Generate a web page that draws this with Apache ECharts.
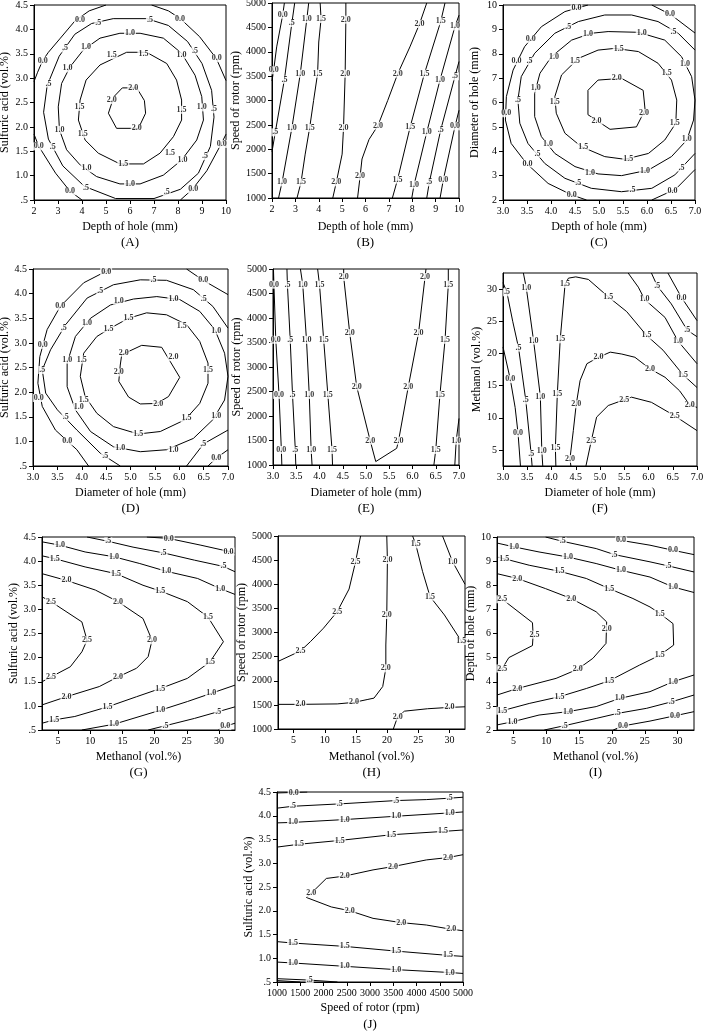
<!DOCTYPE html>
<html>
<head>
<meta charset="utf-8">
<script src="https://cdn.jsdelivr.net/npm/echarts@6.0.0/dist/echarts.min.js"></script>
<style>
html, body { margin: 0; padding: 0; background: #fff; }
#chart { width: 703px; height: 1033px; }
</style>
</head>
<body>
<div id="chart"></div>
<script>
const FONT = '"Liberation Serif", "Times New Roman", serif';

// axis ticks
const methanolTicks = [5, 10, 15, 20, 25, 30];

// contour lines per panel, [x, y] pairs
const linesA = [
  [[5.68,2.8],[6.28,2.8],[6.6,2.54],[6.65,2.28],[6.35,1.97],[5.44,1.97],[5.1,2.28],[5.33,2.62],[5.68,2.8]],
  [[5.86,3.53],[6.69,3.53],[7.53,3.3],[7.94,2.96],[8.15,2.55],[8.15,2.14],[7.81,1.8],[7.25,1.46],[6.56,1.24],[5.58,1.24],[4.68,1.46],[4.13,1.73],[3.85,2.14],[3.92,2.55],[4.17,2.96],[4.75,3.27],[5.86,3.53]],
  [[5.58,3.92],[6.42,3.92],[7.39,3.82],[8.15,3.51],[8.71,3.06],[8.99,2.62],[9.06,2.14],[8.78,1.73],[8.15,1.32],[7.39,1.01],[6.42,0.83],[5.58,0.83],[4.61,0.98],[3.92,1.22],[3.36,1.53],[3.06,1.94],[3.01,2.41],[3.15,2.89],[3.5,3.23],[4.06,3.58],[4.75,3.82],[5.58,3.92]],
  [[5.3,4.22],[6.7,4.22],[7.6,4.08],[8.4,3.75],[9.0,3.3],[9.4,2.75],[9.5,2.2],[9.35,1.6],[8.85,1.05],[8.1,0.72],[7.0,0.53],[5.4,0.53],[4.1,0.78],[3.2,1.2],[2.6,1.75],[2.4,2.3],[2.55,2.85],[3.05,3.45],[3.7,3.9],[4.4,4.12],[5.3,4.22]],
  [[5.0,4.5],[4.3,4.38],[3.7,4.17],[3.1,3.82],[2.6,3.53],[2.36,3.36],[2.15,3.12],[2,2.93]],
  [[2,1.85],[2.2,1.6],[2.9,1.05],[3.5,0.68],[4.0,0.5]],
  [[6.9,4.5],[7.6,4.38],[8.1,4.22],[8.9,3.85],[9.6,3.4],[10,2.95]],
  [[10,1.85],[9.8,1.65],[9.2,1.1],[8.6,0.72],[8.1,0.5]]
];
const labelsA = [
  [6.14,2.8,'2.0'],[5.24,2.55,'2.0'],[6.28,1.97,'2.0'],
  [5.24,3.47,'1.5'],[6.56,3.5,'1.5'],[8.15,2.35,'1.5'],[7.67,1.46,'1.5'],[5.72,1.24,'1.5'],[3.9,2.41,'1.5'],[4.03,1.85,'1.5'],
  [6.0,3.92,'1.0'],[4.17,3.63,'1.0'],[8.15,3.48,'1.0'],[3.4,3.2,'1.0'],[8.99,2.4,'1.0'],[3.06,1.94,'1.0'],[8.19,1.32,'1.0'],[4.19,1.15,'1.0'],[6.0,0.83,'1.0'],
  [4.68,4.14,'.5'],[6.83,4.2,'.5'],[3.29,3.61,'.5'],[8.71,3.55,'.5'],[2.6,2.89,'.5'],[9.5,2.36,'.5'],[2.78,1.59,'.5'],[9.13,1.4,'.5'],[4.17,0.74,'.5'],[7.53,0.66,'.5'],
  [3.92,4.2,'0.0'],[8.08,4.22,'0.0'],[2.36,3.36,'0.0'],[9.61,3.41,'0.0'],[2.2,1.6,'0.0'],[9.82,1.65,'0.0'],[3.5,0.68,'0.0'],[8.64,0.72,'0.0']
];

const linesB = [
  [[2.53,5000],[2.46,4761],[2.2,4100],[2.07,3619],[2,3400]],
  [[2.97,5000],[2.85,4590],[2.53,3427],[2.14,2347],[2,1950]],
  [[3.57,5000],[3.49,4672],[3.21,3550],[2.85,2436],[2.43,1321],[2.28,1000]],
  [[4.06,5000],[4.1,4672],[4.0,4200],[3.95,3550],[3.78,3000],[3.61,2436],[3.42,1900],[3.24,1321],[3.07,1000]],
  [[5.16,5000],[5.16,4658],[5.13,3550],[5.06,2436],[5.0,1900],[4.75,1321],[4.6,1000]],
  [[8.62,5000],[8.31,4569],[7.9,4100],[7.38,3550],[6.95,3000],[6.53,2484],[6.15,2200],[5.85,1800],[5.77,1444],[5.66,1000]],
  [[9.4,5000],[9.22,4624],[8.52,3550],[7.91,2456],[7.37,1376],[7.15,1000]],
  [[10,4750],[9.83,4521],[9.19,3427],[8.62,2347],[8.08,1274],[7.98,1000]],
  [[10,3800],[9.83,3496],[9.22,2402],[8.73,1321],[8.62,1000]],
  [[10,2800],[9.83,2470],[9.33,1376],[9.19,1000]]
];
const labelsB = [
  [2.46,4761,'0.0'],[2.07,3619,'0.0'],[9.83,2470,'0.0'],[9.33,1376,'0.0'],
  [2.85,4590,'.5'],[2.53,3427,'.5'],[2.14,2347,'.5'],[9.83,3496,'.5'],[9.22,2402,'.5'],[8.73,1321,'.5'],
  [3.49,4672,'1.0'],[3.21,3550,'1.0'],[2.85,2436,'1.0'],[2.43,1321,'1.0'],[9.83,4521,'1.0'],[9.19,3427,'1.0'],[8.62,2347,'1.0'],[8.08,1274,'1.0'],
  [4.1,4672,'1.5'],[3.95,3550,'1.5'],[3.61,2436,'1.5'],[3.24,1321,'1.5'],[9.22,4624,'1.5'],[8.52,3550,'1.5'],[7.91,2456,'1.5'],[7.37,1376,'1.5'],
  [5.16,4658,'2.0'],[5.13,3550,'2.0'],[5.06,2436,'2.0'],[4.75,1321,'2.0'],[8.31,4569,'2.0'],[7.38,3550,'2.0'],[6.53,2484,'2.0'],[5.77,1444,'2.0']
];

const linesC = [
  [[4.98,6.92],[5.47,6.99],[5.92,6.5],[5.96,5.7],[5.78,5.0],[5.23,4.9],[4.77,5.5],[4.77,6.5],[4.98,6.92]],
  [[5.33,8.22],[5.82,8.09],[6.23,7.61],[6.51,6.92],[6.62,6.1],[6.6,5.15],[6.37,4.46],[6.03,3.91],[5.54,3.67],[5.12,3.78],[4.63,4.19],[4.29,4.74],[4.11,5.56],[4.08,6.24],[4.22,7.13],[4.57,7.81],[4.98,8.15],[5.33,8.22]],
  [[5.19,8.91],[5.82,8.88],[6.37,8.56],[6.72,7.88],[6.93,7.06],[7.0,6.1],[6.97,5.28],[6.83,4.46],[6.51,3.78],[6.03,3.23],[5.47,3.0],[4.98,3.07],[4.5,3.37],[4.08,3.91],[3.8,4.6],[3.66,5.42],[3.66,6.38],[3.77,7.2],[4.01,7.88],[4.43,8.56],[4.84,8.84],[5.19,8.91]],
  [[7.0,8.15],[6.65,8.84],[6.23,9.32],[5.68,9.59],[5.12,9.59],[4.57,9.32],[4.08,8.84],[3.66,8.02],[3.38,7.06],[3.31,6.1],[3.35,5.15],[3.52,4.32],[3.87,3.5],[4.29,2.89],[4.84,2.48],[5.47,2.34],[6.1,2.48],[6.58,3.03],[7.0,3.91]],
  [[4.77,10],[4.29,9.73],[3.8,9.11],[3.45,8.29],[3.21,7.33],[3.07,6.24],[3.05,5.28],[3.17,4.32],[3.49,3.5],[3.94,2.68],[4.43,2.21],[4.74,2.0]],
  [[6.1,10],[6.5,9.6],[7,8.85]],
  [[7,3.25],[6.6,2.45],[6.1,2.0]]
];
const labelsC = [
  [5.37,6.99,'2.0'],[5.94,5.56,'2.0'],[4.95,5.25,'2.0'],
  [5.41,8.2,'1.5'],[4.5,7.7,'1.5'],[6.41,7.2,'1.5'],[4.08,6.03,'1.5'],[6.58,5.17,'1.5'],[4.67,4.19,'1.5'],[5.61,3.7,'1.5'],
  [4.77,8.82,'1.0'],[5.89,8.86,'1.0'],[4.06,7.88,'1.0'],[6.79,7.6,'1.0'],[3.68,6.58,'1.0'],[6.83,4.5,'1.0'],[3.94,4.3,'1.0'],[4.81,3.12,'1.0'],[5.96,3.19,'1.0'],
  [4.36,9.11,'.5'],[6.55,8.91,'.5'],[3.55,7.7,'.5'],[3.31,6.1,'.5'],[3.72,3.9,'.5'],[6.72,3.33,'.5'],[4.57,2.68,'.5'],[5.7,2.4,'.5'],
  [4.53,9.86,'0.0'],[6.48,9.62,'0.0'],[3.58,8.6,'0.0'],[3.28,7.7,'0.0'],[3.07,5.56,'0.0'],[3.51,3.5,'0.0'],[4.43,2.22,'0.0'],[6.53,2.38,'0.0']
];

const linesD = [
  [[4.82,2.76],[5.23,2.95],[5.64,2.91],[6.01,2.3],[5.78,1.91],[5.54,1.77],[5.2,1.76],[4.96,1.9],[4.76,2.22],[4.79,2.55],[4.82,2.76]],
  [[4.59,3.3],[4.96,3.5],[5.33,3.61],[5.74,3.57],[6.15,3.37],[6.42,3.03],[6.59,2.59],[6.59,2.18],[6.42,1.77],[6.12,1.44],[5.61,1.2],[5.16,1.15],[4.65,1.3],[4.31,1.57],[4.07,1.91],[3.97,2.32],[4.04,2.79],[4.31,3.13],[4.59,3.3]],
  [[5.06,3.89],[5.54,3.94],[6.01,3.88],[6.42,3.64],[6.73,3.27],[6.93,2.79],[7.0,2.32],[6.93,1.84],[6.69,1.44],[6.29,1.06],[5.74,0.83],[5.2,0.79],[4.65,0.89],[4.18,1.2],[3.87,1.64],[3.7,2.11],[3.7,2.59],[3.87,3.13],[4.18,3.5],[4.59,3.77],[5.06,3.89]],
  [[7,3.3],[6.69,3.74],[6.29,4.08],[5.74,4.27],[5.2,4.28],[4.65,4.18],[4.11,3.91],[3.67,3.37],[3.36,2.86],[3.19,2.45],[3.26,1.98],[3.5,1.64],[3.9,1.23],[4.38,0.76],[4.79,0.5]],
  [[7,1.23],[6.5,0.95],[6.15,0.5]],
  [[4.59,4.5],[4.04,4.22],[3.56,3.74],[3.29,3.27],[3.14,2.72],[3.1,2.18],[3.19,1.71],[3.46,1.23],[3.9,0.83],[4.14,0.5]],
  [[6.15,4.5],[6.49,4.27],[7,3.98]],
  [[7,0.83],[6.76,0.66],[6.59,0.5]]
];
const labelsD = [
  [4.86,2.8,'2.0'],[5.88,2.71,'2.0'],[4.76,2.4,'2.0'],[5.57,1.76,'2.0'],
  [4.96,3.5,'1.5'],[4.55,3.29,'1.5'],[6.05,3.35,'1.5'],[4.0,2.66,'1.5'],[6.59,2.45,'1.5'],[4.04,1.85,'1.5'],[6.15,1.47,'1.5'],[5.16,1.15,'1.5'],
  [4.76,3.86,'1.0'],[5.88,3.89,'1.0'],[4.11,3.4,'1.0'],[6.76,3.25,'1.0'],[3.7,2.66,'1.0'],[6.76,1.52,'1.0'],[3.94,1.7,'1.0'],[4.79,0.86,'1.0'],[5.88,0.82,'1.0'],
  [5.47,4.27,'.5'],[4.38,4.05,'.5'],[6.5,3.9,'.5'],[3.63,3.3,'.5'],[3.19,2.45,'.5'],[3.67,1.5,'.5'],[4.48,0.7,'.5'],[6.49,0.95,'.5'],
  [4.5,4.45,'0.0'],[6.49,4.27,'0.0'],[3.56,3.74,'0.0'],[3.2,2.96,'0.0'],[3.12,1.88,'0.0'],[3.7,1.0,'0.0'],[6.76,0.66,'0.0']
];

const linesE = [
  [[3.01,5000],[3.02,4680],[3.06,3555],[3.13,2431],[3.18,1307],[3.19,1000]],
  [[3.3,5000],[3.31,4680],[3.37,3555],[3.42,2431],[3.48,1307],[3.49,1000]],
  [[3.59,5000],[3.64,4680],[3.72,3555],[3.78,2431],[3.82,1307],[3.84,1000]],
  [[3.96,5000],[4.0,4680],[4.09,3555],[4.18,2431],[4.27,1307],[4.28,1000]],
  [[4.52,5000],[4.52,4836],[4.65,3692],[4.8,2601],[5.09,1497],[5.21,1070],[5.66,1340],[5.7,1497],[5.91,2601],[6.13,3692],[6.27,4836],[6.29,5000]],
  [[6.77,5000],[6.77,4680],[6.7,3555],[6.59,2431],[6.5,1307],[6.46,1000]],
  [[7,1950],[6.94,1497],[6.91,1000]]
];
const labelsE = [
  [3.02,4680,'0.0'],[3.06,3555,'0.0'],[3.13,2431,'0.0'],[3.18,1307,'0.0'],
  [3.31,4680,'.5'],[3.37,3555,'.5'],[3.42,2431,'.5'],[3.48,1307,'.5'],
  [3.64,4680,'1.0'],[3.72,3555,'1.0'],[3.78,2431,'1.0'],[3.82,1307,'1.0'],[6.94,1497,'1.0'],
  [4.0,4680,'1.5'],[4.09,3555,'1.5'],[4.18,2431,'1.5'],[4.27,1307,'1.5'],[6.77,4680,'1.5'],[6.7,3555,'1.5'],[6.59,2431,'1.5'],[6.5,1307,'1.5'],
  [4.52,4836,'2.0'],[4.65,3692,'2.0'],[4.8,2601,'2.0'],[5.09,1497,'2.0'],[5.7,1497,'2.0'],[5.91,2601,'2.0'],[6.13,3692,'2.0'],[6.27,4836,'2.0']
];

const linesF = [
  [[3,21],[3.15,16],[3.25,11.6],[3.31,7.6],[3.36,2.5]],
  [[3,31],[3.08,29.5],[3.2,25],[3.32,20.9],[3.47,12.7],[3.58,4.4],[3.6,2.5]],
  [[3.42,32.5],[3.48,30.2],[3.63,22],[3.77,13.3],[3.8,4.9],[3.82,2.5]],
  [[4.09,2.5],[4.08,5.3],[4.12,13.7],[4.18,22.2],[4.28,30.8],[4.35,31.7],[4.5,31.9],[4.76,31.5],[5.17,28.8],[5.55,26.5],[5.96,22.8],[6.3,20.5],[6.71,16.7],[7,14.7]],
  [[5.58,32.5],[5.79,30.3],[5.92,28.4],[6.34,25.6],[6.61,21.9],[7,18.4]],
  [[6.06,32.5],[6.18,30.5],[6.47,27.7],[6.8,23.6],[7,22.6]],
  [[6.4,32.5],[6.68,28.7],[7,25.1]],
  [[4.4,2.5],[4.38,3.6],[4.45,8],[4.51,12.1],[4.59,15.8],[4.73,18.4],[4.97,19.4],[5.21,20.2],[5.45,19.9],[5.72,19.4],[6.03,17.6],[6.34,16.3],[6.64,14.2],[6.85,12.0],[7,11.6]],
  [[4.71,2.5],[4.82,6.4],[4.93,10.1],[5.17,11.9],[5.5,12.8],[5.65,13.2],[6.06,12.4],[6.54,10.3],[7,8.0]]
];
const labelsF = [
  [3.15,16.0,'0.0'],[3.31,7.6,'0.0'],[6.68,28.7,'0.0'],
  [3.08,29.5,'.5'],[3.32,20.9,'.5'],[3.47,12.7,'.5'],[3.58,4.4,'.5'],[6.18,30.5,'.5'],[6.8,23.6,'.5'],
  [3.48,30.2,'1.0'],[3.63,22.0,'1.0'],[3.77,13.3,'1.0'],[3.8,4.9,'1.0'],[5.92,28.4,'1.0'],[6.61,21.9,'1.0'],
  [4.28,30.8,'1.5'],[4.18,22.2,'1.5'],[4.12,13.7,'1.5'],[4.08,5.3,'1.5'],[5.17,28.8,'1.5'],[5.96,22.8,'1.5'],[6.71,16.7,'1.5'],
  [4.38,3.6,'2.0'],[4.51,12.1,'2.0'],[4.97,19.4,'2.0'],[6.03,17.6,'2.0'],[6.85,12.0,'2.0'],
  [4.82,6.4,'2.5'],[5.5,12.8,'2.5'],[6.54,10.3,'2.5']
];

const linesG = [
  [[18.8,4.5],[22.2,4.47],[27.2,4.33],[31.9,4.19],[32.5,4.16]],
  [[9.5,4.5],[12.8,4.41],[16.65,4.29],[21.4,4.17],[26.2,4.02],[30.7,3.89],[32.5,3.78]],
  [[2.5,4.4],[5.3,4.33],[9.2,4.19],[13.7,4.09],[17.7,3.95],[21.8,3.79],[26.7,3.64],[30.2,3.43],[32.5,3.31]],
  [[2.5,4.11],[4.5,4.05],[9.2,3.88],[14.0,3.74],[18.2,3.5],[20.9,3.38],[25.1,3.16],[28.3,2.84],[30.7,2.33],[28.6,1.91],[25.1,1.57],[20.9,1.36],[17.2,1.19],[12.7,0.98],[7.6,0.78],[4.4,0.71],[2.5,0.64]],
  [[2.5,3.74],[6.3,3.6],[10.8,3.4],[14.3,3.16],[18.2,2.81],[19.6,2.36],[19.0,2.02],[17.2,1.78],[14.3,1.6],[11.4,1.4],[6.3,1.19],[2.5,1.02]],
  [[2.5,3.26],[3.9,3.16],[8.7,2.74],[9.5,2.36],[8.7,2.12],[6.9,1.81],[3.9,1.6],[2.5,1.5]],
  [[8.7,0.5],[13.7,0.62],[20.9,0.91],[25.1,1.09],[28.8,1.26],[32.5,1.43]],
  [[19.0,0.5],[21.7,0.59],[26.2,0.74],[29.9,0.88],[32.5,0.98]],
  [[29.9,0.5],[31,0.58],[32.5,0.64]]
];
const labelsG = [
  [22.2,4.47,'0.0'],[31.5,4.2,'0.0'],[31,0.58,'0.0'],
  [12.8,4.41,'.5'],[21.4,4.17,'.5'],[30.7,3.89,'.5'],[21.7,0.59,'.5'],[29.9,0.88,'.5'],
  [5.3,4.33,'1.0'],[13.7,4.09,'1.0'],[21.8,3.79,'1.0'],[30.2,3.43,'1.0'],[13.7,0.62,'1.0'],[20.9,0.91,'1.0'],[28.8,1.26,'1.0'],
  [4.5,4.05,'1.5'],[14.0,3.74,'1.5'],[20.9,3.38,'1.5'],[28.3,2.84,'1.5'],[28.6,1.91,'1.5'],[20.9,1.36,'1.5'],[12.7,0.98,'1.5'],[4.4,0.71,'1.5'],
  [6.3,3.6,'2.0'],[14.3,3.16,'2.0'],[19.6,2.36,'2.0'],[14.3,1.6,'2.0'],[6.3,1.19,'2.0'],
  [3.9,3.16,'2.5'],[9.5,2.36,'2.5'],[3.9,1.6,'2.5']
];

const linesH = [
  [[15.75,5000],[14.95,4468],[13.9,3900],[12.0,3432],[9.8,3090],[7.7,2810],[6.1,2617],[2.5,2400]],
  [[19.95,5000],[20.05,4503],[19.95,3363],[19.8,2741],[19.8,2257],[19.3,1880],[17.9,1640],[16.8,1610],[14.7,1552],[12,1520],[6.1,1511],[2.5,1511]],
  [[21.0,1000],[21.7,1256],[22.8,1370],[26.5,1420],[30,1448],[32.5,1460]],
  [[24.1,5000],[24.6,4827],[25.7,4261],[26.9,3743],[29.2,3363],[31.9,2824],[32.5,2760]],
  [[28.9,5000],[30.5,4468],[32.5,4000]]
];
const labelsH = [
  [14.95,4468,'2.5'],[12.0,3432,'2.5'],[6.1,2617,'2.5'],
  [20.05,4503,'2.0'],[19.95,3363,'2.0'],[19.8,2257,'2.0'],[14.7,1552,'2.0'],[6.1,1511,'2.0'],[21.7,1256,'2.0'],[30,1448,'2.0'],
  [24.6,4827,'1.5'],[26.9,3743,'1.5'],[31.9,2824,'1.5'],
  [30.5,4468,'1.0']
];

const linesI = [
  [[20.7,10],[21.4,9.86],[25.8,9.66],[29.3,9.45],[32.5,9.27]],
  [[9.9,10],[12.5,9.82],[17.6,9.52],[20.4,9.27],[25.8,8.97],[28.6,8.8],[32.5,8.55]],
  [[2.5,9.75],[5.1,9.59],[8.9,9.38],[13.3,9.17],[17.6,8.9],[21.4,8.62],[25.8,8.34],[29.3,7.93],[32.5,7.7]],
  [[2.5,9.17],[3.6,9.1],[7.4,8.83],[12.0,8.58],[16.1,8.28],[19.6,7.86],[23.2,7.45],[25.8,7.1],[27.3,6.83],[29.3,6.41],[29.4,5.52],[27.3,5.1],[24.2,4.69],[19.6,4.04],[16.1,3.72],[12.0,3.38],[7.4,3.1],[3.3,2.8],[2.5,2.76]],
  [[2.5,8.48],[5.6,8.28],[9.9,7.86],[13.8,7.45],[17.6,6.9],[19.2,6.48],[19.1,5.59],[17.1,4.97],[14.8,4.52],[11.5,4.14],[5.6,3.72],[2.5,3.45]],
  [[2.5,7.59],[3.3,7.42],[7.9,6.45],[8.0,5.95],[7.9,5.5],[4.3,5.0],[3.3,4.55],[2.5,4.5]],
  [[2.5,2.21],[4.85,2.34],[8.9,2.62],[13.3,2.76],[17.6,2.97],[21.2,3.31],[25.8,3.59],[29.3,4.0],[32.5,4.28]],
  [[9.7,2],[12.8,2.18],[17.6,2.48],[20.9,2.69],[25.3,2.9],[29.1,3.17],[32.5,3.45]],
  [[20.2,2],[21.7,2.17],[25.8,2.37],[29.6,2.59],[32.5,2.76]]
];
const labelsI = [
  [21.4,9.86,'0.0'],[29.3,9.45,'0.0'],[21.7,2.17,'0.0'],[29.6,2.59,'0.0'],
  [12.5,9.82,'.5'],[20.4,9.27,'.5'],[28.6,8.8,'.5'],[12.8,2.18,'.5'],[20.9,2.69,'.5'],[29.1,3.17,'.5'],
  [5.1,9.59,'1.0'],[13.3,9.17,'1.0'],[21.4,8.62,'1.0'],[29.3,7.93,'1.0'],[4.85,2.34,'1.0'],[13.3,2.76,'1.0'],[21.2,3.31,'1.0'],[29.3,4.0,'1.0'],
  [3.6,9.1,'1.5'],[12.0,8.58,'1.5'],[19.6,7.86,'1.5'],[27.3,6.83,'1.5'],[27.3,5.1,'1.5'],[19.6,4.04,'1.5'],[12.0,3.38,'1.5'],[3.3,2.8,'1.5'],
  [5.6,8.28,'2.0'],[13.8,7.45,'2.0'],[19.2,6.2,'2.0'],[14.8,4.52,'2.0'],[5.6,3.72,'2.0'],
  [3.3,7.42,'2.5'],[8.2,5.95,'2.5'],[3.3,4.55,'2.5']
];

const linesJ = [
  [[1000,4.48],[1358,4.49],[1650,4.5]],
  [[1000,4.16],[1344,4.2],[2348,4.25],[3566,4.32],[4211,4.34],[4713,4.37],[5000,4.39]],
  [[1000,3.85],[1344,3.86],[2455,3.92],[3566,3.99],[4713,4.06],[5000,4.08]],
  [[1000,3.34],[1473,3.4],[2348,3.48],[3459,3.6],[4570,3.67],[5000,3.7]],
  [[5000,3.18],[4677,3.12],[4211,3.07],[3495,2.93],[3065,2.86],[2455,2.73],[2061,2.68],[1738,2.37],[1631,2.28],[2168,2.08],[2563,2.0],[3065,1.84],[3674,1.75],[4211,1.7],[4749,1.61],[5000,1.58]],
  [[1000,1.35],[1344,1.32],[2455,1.25],[3566,1.15],[4677,1.06],[5000,1.04]],
  [[1000,0.92],[1344,0.9],[2455,0.83],[3566,0.76],[4713,0.7],[5000,0.68]],
  [[1000,0.57],[1703,0.54],[2300,0.5]],
  [[1000,0.53],[1500,0.5]]
];
const labelsJ = [
  [1358,4.49,'0.0'],
  [1344,4.2,'.5'],[2348,4.25,'.5'],[3566,4.32,'.5'],[4713,4.37,'.5'],[1703,0.54,'.5'],
  [1344,3.86,'1.0'],[2455,3.92,'1.0'],[3566,3.99,'1.0'],[4713,4.06,'1.0'],[1344,0.9,'1.0'],[2455,0.83,'1.0'],[3566,0.76,'1.0'],[4713,0.7,'1.0'],
  [1473,3.4,'1.5'],[2348,3.48,'1.5'],[3459,3.6,'1.5'],[4570,3.67,'1.5'],[1344,1.32,'1.5'],[2455,1.25,'1.5'],[3566,1.15,'1.5'],[4677,1.06,'1.5'],
  [1738,2.37,'2.0'],[2455,2.73,'2.0'],[3495,2.93,'2.0'],[4677,3.12,'2.0'],[2563,2.0,'2.0'],[3674,1.75,'2.0'],[4749,1.61,'2.0']
];

// axes
const fix1 = v => v.toFixed(1);
const acidFmt = v => (Math.abs(v - 0.5) < 1e-9 ? '.5' : v.toFixed(1));
const depthX = { name: 'Depth of hole (mm)', min: 2, max: 10, interval: 1, fmt: String };
const depthXC = { name: 'Depth of hole (mm)', min: 3, max: 7, interval: 0.5, fmt: fix1 };
const depthY = { name: 'Depth of hole (mm)', min: 2, max: 10, interval: 1, fmt: String };
const diamX = { name: 'Diameter of hole (mm)', min: 3, max: 7, interval: 0.5, fmt: fix1 };
const diamY = { name: 'Diameter of hole (mm)', min: 2, max: 10, interval: 1, fmt: String };
const acid = { name: 'Sulfuric acid (vol.%)', min: 0.5, max: 4.5, interval: 0.5, fmt: acidFmt };
const speed = { name: 'Speed of rotor (rpm)', min: 1000, max: 5000, interval: 500, fmt: String };
const methanol = { name: 'Methanol (vol.%)', min: 2.5, max: 32.5, ticks: methanolTicks, fmt: String };

const panels = [
  { tag: 'A', box: [34, 5, 192, 195], x: depthX, y: acid, lines: linesA, labels: labelsA, xGap: 21, yGap: 23, capY: 243 },
  { tag: 'B', box: [272, 3, 187, 195], x: depthX, y: speed, lines: linesB, labels: labelsB, xGap: 23, yGap: 26, capY: 243 },
  { tag: 'C', box: [503, 5, 192, 195], x: depthXC, y: diamY, lines: linesC, labels: labelsC, xGap: 21, yGap: 22, capY: 243 },
  { tag: 'D', box: [33, 269, 195, 197], x: diamX, y: acid, lines: linesD, labels: labelsD, xGap: 21, yGap: 21, capY: 509 },
  { tag: 'E', box: [273, 269, 186, 196], x: diamX, y: speed, lines: linesE, labels: labelsE, xGap: 22, yGap: 25, capY: 509 },
  { tag: 'F', box: [503, 273, 194, 193], x: diamX, y: methanol, lines: linesF, labels: labelsF, xGap: 21, yGap: 20, capY: 509 },
  { tag: 'G', box: [42, 537, 193, 193], x: methanol, y: acid, lines: linesG, labels: labelsG, xGap: 21, yGap: 19, capY: 773 },
  { tag: 'H', box: [278, 536, 187, 193], x: methanol, y: speed, lines: linesH, labels: labelsH, xGap: 22, yGap: 27, capY: 773 },
  { tag: 'I', box: [497, 537, 197, 193], x: methanol, y: depthY, lines: linesI, labels: labelsI, xGap: 21, yGap: 17, capY: 773 },
  { tag: 'J', box: [277, 792, 186, 190], x: speed, y: acid, lines: linesJ, labels: labelsJ, xGap: 20, yGap: 19, capY: 1025 }
];

function makeAxis(spec, idx, gap) {
  const ax = {
    type: 'value', gridIndex: idx, min: spec.min, max: spec.max,
    name: spec.name, nameLocation: 'middle', nameGap: gap,
    nameTextStyle: { fontFamily: FONT, fontSize: 12, color: '#000' },
    axisLine: { show: true, onZero: false, lineStyle: { color: '#000', width: 1 } },
    axisTick: { show: true, inside: false, length: 4, lineStyle: { color: '#000', width: 1 } },
    axisLabel: { show: true, margin: 6, fontFamily: FONT, fontSize: 10, color: '#000', formatter: spec.fmt },
    splitLine: { show: false }
  };
  if (spec.ticks) {
    ax.axisTick.customValues = spec.ticks;
    ax.axisLabel.customValues = spec.ticks;
  } else {
    ax.interval = spec.interval;
  }
  return ax;
}

const grids = [], xAxes = [], yAxes = [], series = [], captions = [];
panels.forEach((p, i) => {
  const [l, t, w, h] = p.box;
  grids.push({ left: l, top: t, width: w, height: h, show: true, borderColor: '#000', borderWidth: 1,
               backgroundColor: 'transparent', containLabel: false, outerBoundsMode: 'none' });
  xAxes.push(makeAxis(p.x, i, p.xGap));
  yAxes.push(makeAxis(p.y, i, p.yGap));
  p.lines.forEach(line => {
    series.push({
      type: 'line', xAxisIndex: i, yAxisIndex: i, data: line,
      symbol: 'none', showSymbol: false, silent: true, z: 2,
      lineStyle: { color: '#000', width: 1 }
    });
  });
  series.push({
    type: 'scatter', xAxisIndex: i, yAxisIndex: i, data: p.labels,
    symbolSize: 0, silent: true, z: 3,
    itemStyle: { color: 'transparent' },
    label: {
      show: true, position: 'inside', formatter: d => d.value[2],
      fontFamily: FONT, fontSize: 8, fontWeight: 'bold', color: '#000',
      backgroundColor: '#fff', padding: [0, 1]
    }
  });
  captions.push({
    type: 'text', x: l + w / 2, y: p.capY,
    style: { text: '(' + p.tag + ')', align: 'center', verticalAlign: 'middle',
             fontFamily: FONT, fontSize: 13, fill: '#000' }
  });
});

const chart = echarts.init(document.getElementById('chart'), null, { renderer: 'canvas' });
chart.setOption({
  animation: false,
  backgroundColor: '#fff',
  grid: grids,
  xAxis: xAxes,
  yAxis: yAxes,
  series: series,
  graphic: captions
});
</script>
</body>
</html>
